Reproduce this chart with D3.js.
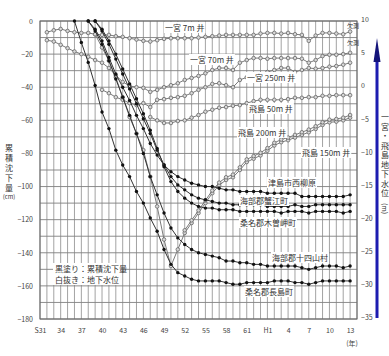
<!DOCTYPE html>
<html>
<head>
<meta charset="utf-8">
<script src="https://cdn.jsdelivr.net/npm/d3@7"></script>
<style>
  body { margin: 0; background: #fff; }
  svg { display: block; font-family: "Noto Sans CJK JP", "Noto Sans", sans-serif; }
</style>
</head>
<body>
<svg id="chart" width="389" height="356"></svg>
<script>
// x ticks: year and its label (Showa / Heisei)
const tickYears = [1956, 1959, 1962, 1965, 1968, 1971, 1974, 1977, 1980, 1983, 1986, 1989, 1992, 1995, 1998, 2001];
const tickLabels = ["S31", "34", "37", "40", "43", "46", "49", "52", "55", "58", "61", "H1", "4", "7", "10", "13"];

// cumulative subsidence (cm), left axis
const nagashimaStart = 1961;
const nagashima = [0, -13, -25, -39, -55, -65, -78, -87, -94, -103, -110, -119, -127, -138, -147, -152, -154, -156, -157, -157,
  -157, -157, -158, -159, -159, -158, -158, -158, -158, -157, -157, -157, -158, -158, -159, -158, -157, -157, -157, -157, -157];
const jushiyamaStart = 1963;
const jushiyama = [0, -6, -14, -24, -35, -46, -57, -68, -80, -94, -105, -116, -125, -131, -135, -138, -140, -141, -142, -143,
  -145, -145, -146, -146, -147, -147, -148, -148, -148, -148, -148, -149, -150, -149, -148, -148, -148, -149, -148];
const tsushimaStart = 1963;
const tsushima = [0, -5, -12, -22, -32, -40, -48, -57, -65, -74, -81, -87, -91, -94, -96, -98, -99, -100, -100, -101,
  -102, -102, -103, -103, -103, -103, -104, -104, -104, -104, -104, -106, -106, -106, -106, -106, -106, -106, -105];
const kanieStart = 1964;
const kanie = [0, -6, -14, -23, -32, -41, -50, -59, -68, -78, -87, -94, -99, -102, -105, -107, -108, -109, -110, -110,
  -111, -111, -111, -111, -111, -112, -112, -112, -112, -111, -112, -112, -111, -111, -111, -111, -111, -111];
const kisosakiStart = 1964;
const kisosaki = [0, -5, -12, -20, -29, -38, -47, -56, -66, -77, -88, -97, -103, -107, -110, -112, -113, -113, -114, -114,
  -114, -115, -115, -115, -115, -115, -115, -116, -115, -115, -115, -116, -115, -115, -115, -115, -116, -115];

// groundwater level (m), right axis
const ichi7Start = 1957;
const ichi7 = [8.3, 8.6, 8.8, 8.5, 8.3, 8.2, 8.2, 8.0, 7.9, 7.9, 7.7, 7.6, 7.4, 7.2, 7.0, 6.9, 7.1, 7.3, 7.4, 7.4,
  7.4, 7.4, 7.5, 7.6, 7.7, 7.8, 7.9, 7.9, 7.9, 7.9, 7.9, 8.1, 8.2, 8.2, 8.1, 8.2, 8.0, 7.9, 7.0, 7.8, 8.2, 8.2, 8.1, 8.0, 8.4];
const ichi70Start = 1957;
const ichi70 = [7.1, 6.9, 6.4, 5.9, 5.4, 5.0, 4.6, 4.1, 3.7, 2.9, 1.8, 0.8, 0.2, 0.0, -0.1, -0.7, -0.4, 0.0, 0.3, 0.6,
  1.1, 1.4, 1.7, 2.1, 2.6, 2.9, 2.9, 2.6, 3.7, 4.1, 4.4, 4.4, 4.3, 4.4, 4.4, 4.4, 4.4, 4.3, 3.7, 4.1, 4.7, 4.9, 4.9, 5.0, 5.2];
const ichi250Start = 1965;
const ichi250 = [-0.4, -0.9, -1.5, -1.9, -2.4, -2.7, -2.4, -3.0, -1.9, -1.8, -1.6, -1.5, -1.3, -0.9, -0.4, 0.0, 0.5, 0.6, 0.3, 0.0,
  1.1, 1.5, 1.8, 2.0, 2.3, 2.6, 2.9, 2.9, 2.3, 2.6, 2.9, 2.8, 2.9, 3.1, 3.2, 3.4, 3.7];
const tobi50Start = 1972;
const tobi50 = [-4.5, -5.0, -5.4, -5.4, -5.1, -5.0, -4.6, -4.2, -3.7, -3.4, -3.1, -3.0, -2.8, -2.7, -2.4, -2.1, -1.9, -1.9, -1.9, -1.9,
  -1.8, -1.6, -1.6, -1.5, -1.5, -1.3, -1.3, -1.2, -1.2, -1.2];
const tobi150Start = 1964;
const tobi150 = [8, 6, 4, 1.5, -1.5, -4.5, -7, -9.5, -13.5, -18, -23, -27, -24.5, -22, -20.5, -19, -17.5, -16, -14.8, -14,
  -13.6, -12.5, -11.3, -10.8, -10.3, -9.6, -8.8, -8.3, -8, -7.6, -7.2, -6.8, -6.3, -5.7, -5.3, -5.2, -5, -4.6];
const tobi200Start = 1977;
const tobi200 = [-21.6, -20.1, -18.6, -17.1, -15.6, -14.4, -13.6, -13.2, -12.1, -10.9, -10.4, -9.9, -9.2, -8.4, -7.9, -7.6, -7.2, -6.8, -6.4, -5.9,
  -5.3, -4.9, -4.8, -4.6, -4.2];

const toPoints = (start, vals) => vals.map((v, i) => [start + i, v]);

const svg = d3.select("svg#chart");
const x = d3.scaleLinear().domain([1956, 2002]).range([40, 357]);
const yL = d3.scaleLinear().domain([0, -180]).range([21, 319]);
const yR = d3.scaleLinear().domain([10, -35]).range([21, 319]);

// Grid
const grid = svg.append("g");
grid.selectAll("line.v")
  .data(d3.range(1956, 2003))
  .join("line")
  .attr("x1", (d) => x(d)).attr("x2", (d) => x(d))
  .attr("y1", yL(0)).attr("y2", yL(-180))
  .style("stroke", "#8c8c8c").style("stroke-width", 0.8);
grid.selectAll("line.h")
  .data(d3.range(0, -181, -10))
  .join("line")
  .attr("x1", x(1956)).attr("x2", x(2002))
  .attr("y1", (d) => yL(d)).attr("y2", (d) => yL(d))
  .style("stroke", "#808080").style("stroke-width", 0.9);
svg.append("rect")
  .attr("x", x(1956)).attr("y", yL(0))
  .attr("width", x(2002) - x(1956)).attr("height", yL(-180) - yL(0))
  .style("fill", "none").style("stroke", "#666").style("stroke-width", 1);

// Axes
const axisL = svg.append("g")
  .attr("transform", `translate(${x(1956)},0)`)
  .call(d3.axisLeft(yL).tickValues(d3.range(0, -181, -20)).tickSize(0).tickPadding(7));
const axisR = svg.append("g")
  .attr("transform", `translate(${x(2002)},0)`)
  .call(d3.axisRight(yR).tickValues(d3.range(10, -36, -5)).tickSize(0).tickPadding(4));
const axisB = svg.append("g")
  .attr("transform", `translate(0,${yL(-180)})`)
  .call(d3.axisBottom(x).tickValues(tickYears).tickFormat((d, i) => tickLabels[i]).tickSize(0).tickPadding(9));
[axisL, axisR, axisB].forEach((a) => {
  a.select(".domain").remove();
  a.selectAll("text").style("font-size", "7px").style("fill", "#444").style("font-family", "Noto Sans CJK JP");
});
axisR.selectAll("text").attr("dy", "0.1em");

// Series drawing
const drawSeries = (pts, y, lineColor, dotFill, dotStroke, r) => {
  const g = svg.append("g");
  g.append("path")
    .datum(pts)
    .attr("d", d3.line().x((d) => x(d[0])).y((d) => y(d[1])))
    .style("fill", "none").style("stroke", lineColor).style("stroke-width", 1);
  g.selectAll("circle")
    .data(pts)
    .join("circle")
    .attr("cx", (d) => x(d[0])).attr("cy", (d) => y(d[1]))
    .attr("r", r)
    .style("fill", dotFill).style("stroke", dotStroke).style("stroke-width", 0.8);
};

const water = [
  [ichi7Start, ichi7], [ichi70Start, ichi70], [ichi250Start, ichi250],
  [tobi50Start, tobi50], [tobi150Start, tobi150], [tobi200Start, tobi200],
];
water.forEach(([s, v]) => drawSeries(toPoints(s, v), yR, "#7a7a7a", "#d8d8d8", "#666", 1.8));

const subsidence = [
  [nagashimaStart, nagashima], [jushiyamaStart, jushiyama], [tsushimaStart, tsushima],
  [kanieStart, kanie], [kisosakiStart, kisosaki],
];
subsidence.forEach(([s, v]) => drawSeries(toPoints(s, v), yL, "#333", "#111", "none", 1.7));

// Series labels
const labels = [
  ["一宮 7m 井", 165, 28], ["一宮 70m 井", 190, 60], ["一宮 250m 井", 247, 78],
  ["飛島 50m 井", 249, 109], ["飛島 200m 井", 238, 133], ["飛島 150m 井", 302, 153],
  ["津島市西柳原", 268, 183], ["海部郡蟹江町", 240, 201], ["桑名郡木曽岬町", 240, 223],
  ["海部郡十四山村", 272, 258], ["桑名郡長島町", 245, 292],
];
const labelG = svg.append("g");
labels.forEach(([t, lx, ly]) => {
  const txt = labelG.append("text")
    .attr("x", lx).attr("y", ly + 3)
    .style("font-size", "8px").style("fill", "#333")
    .text(t);
  const b = txt.node().getBBox();
  labelG.insert("rect", "text")
    .attr("x", b.x - 1).attr("y", b.y).attr("width", b.width + 2).attr("height", b.height)
    .style("fill", "#fff");
});
[["欠測", 26], ["欠測", 43]].forEach(([t, ly]) => {
  svg.append("text").attr("x", 347).attr("y", ly + 2)
    .style("font-size", "6px").style("fill", "#333").text(t);
});

// Legend note
const note = svg.append("g");
note.append("rect").attr("x", 53).attr("y", 263).attr("width", 68).attr("height", 22).style("fill", "#fff");
note.append("text").attr("x", 55).attr("y", 272).style("font-size", "8px").style("fill", "#333").text("黒塗り：累積沈下量");
note.append("text").attr("x", 55).attr("y", 283).style("font-size", "8px").style("fill", "#333").text("白抜き：地下水位");

// Axis titles, one glyph per line
const vertical = (chars, cx, y0, step) => {
  svg.append("g").selectAll("text")
    .data(chars)
    .join("text")
    .attr("x", cx).attr("y", (d, i) => y0 + i * step)
    .attr("text-anchor", "middle")
    .style("font-size", "8px").style("fill", "#333")
    .text((d) => d);
};
vertical(Array.from("累積沈下量"), 9, 151, 10);
svg.append("text")
  .attr("x", 9).attr("y", 199).attr("text-anchor", "middle")
  .style("font-size", "6px").style("fill", "#333").text("(cm)");
vertical(Array.from("一宮・飛島地下水位"), 385, 120, 9.5);
svg.append("text")
  .attr("transform", "translate(382,203) rotate(90)")
  .style("font-size", "7px").style("fill", "#333").text("(m)");
svg.append("text")
  .attr("x", 352).attr("y", 346).attr("text-anchor", "middle")
  .style("font-size", "7px").style("fill", "#444").text("(年)");

// Blue arrow
svg.append("line")
  .attr("x1", 377).attr("x2", 377).attr("y1", 318).attr("y2", 58)
  .style("stroke", "#1c1cb0").style("stroke-width", 3);
svg.append("path")
  .attr("d", "M373.5,62 L377,38 L380.5,62 Z")
  .style("fill", "#14147a");
</script>
</body>
</html>
